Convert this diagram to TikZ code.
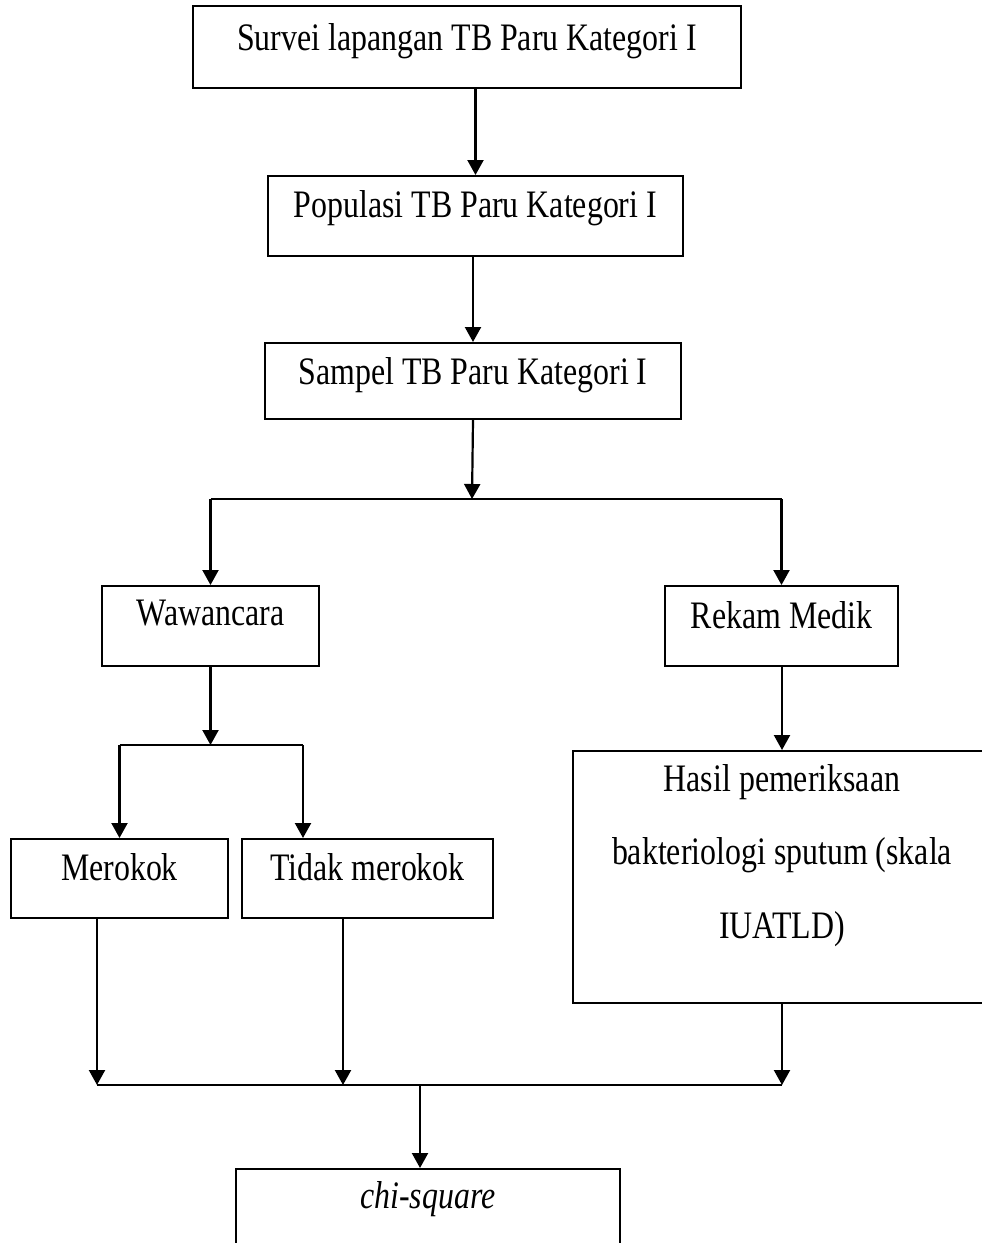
\documentclass[tikz,border=0pt]{standalone}
\usepackage{fontspec}
\setmainfont{Liberation Serif}
\usetikzlibrary{arrows.meta, positioning, calc}
\newcommand{\tall}[1]{\scalebox{1}[1.22]{#1}}
\tikzset{block/.style={draw, rectangle, anchor=north, line width=2.2bp, inner sep=0pt, text height=41bp},
         >={Triangle[length=15bp, width=16bp]}}

\begin{document}
\begin{tikzpicture}[x=1bp, y=-1bp, line width=2.2bp, font=\fontsize{32}{73.5}\selectfont]
    \useasboundingbox (0,0) rectangle (982,1243);
    % boxes, placed by their top edge
    \node[block, minimum width=548bp, text height=44bp, text depth=38bp] (survei) at (467,5) {\tall{Survei lapangan TB Paru Kategori I}};
    \node[block, minimum width=415bp, text depth=39bp] (populasi) at (475.5,175) {\tall{Populasi TB Paru Kategori I}};
    \node[block, minimum width=416bp, text depth=35bp] (sampel) at (473,342) {\tall{Sampel TB Paru Kategori I}};
    \node[block, minimum width=217bp, text height=39bp, text depth=41bp] (wawancara) at (210.5,585) {\tall{Wawancara}};
    \node[block, minimum width=233bp, text height=42bp, text depth=38bp] (rekam) at (781.5,585) {\tall{Rekam Medik}};
    \node[block, minimum width=217bp, text depth=38bp] (merokok) at (119.5,838) {\tall{Merokok}};
    \node[block, minimum width=251bp, text depth=38bp] (tidak) at (367.5,838) {\tall{Tidak merokok}};
    \node[block, align=center, minimum width=418bp, text height=187bp, text depth=65bp] (hasil) at (782,750)
          {\tall{Hasil pemeriksaan}\\\tall{bakteriologi sputum (skala}\\\tall{IUATLD)}};
    \node[block, minimum width=384bp, text height=39bp, text depth=81bp] (chi) at (428,1168) {\tall{\textit{chi-square}}};

    % junctions
    \coordinate (split) at (472,499);
    \coordinate (splitL) at (wawancara |- split);
    \coordinate (splitR) at (rekam |- split);
    \coordinate (wsplit) at (210.5,745);
    \coordinate (msplit) at (merokok |- wsplit);
    \coordinate (tsplit) at (303,745);
    \coordinate (jm) at (97,1085);
    \coordinate (jt) at (343,1085);
    \coordinate (jh) at (hasil |- jm);
    \coordinate (jc) at (420,1085);

    \draw[->] (populasi |- survei.south) -- (populasi.north);
    \draw[->] (sampel |- populasi.south) -- (sampel.north);
    \draw[->] (sampel.south) -- (split);
    \draw (splitL) -- (splitR);
    \draw[->] (splitL) -- (wawancara.north);
    \draw[->] (splitR) -- (rekam.north);
    \draw[->] (wawancara.south) -- (wsplit);
    \draw (msplit) -- (tsplit);
    \draw[->] (msplit) -- (merokok.north);
    \draw[->] (tsplit) -- (tsplit |- tidak.north);
    \draw[->] (hasil |- rekam.south) -- (hasil.north);
    \draw[->] (jm |- merokok.south) -- (jm);
    \draw[->] (jt |- tidak.south) -- (jt);
    \draw[->] (hasil.south) -- (jh);
    \draw (jm) -- (jh);
    \draw[->] (jc) -- (jc |- chi.north);
\end{tikzpicture}
\end{document}
